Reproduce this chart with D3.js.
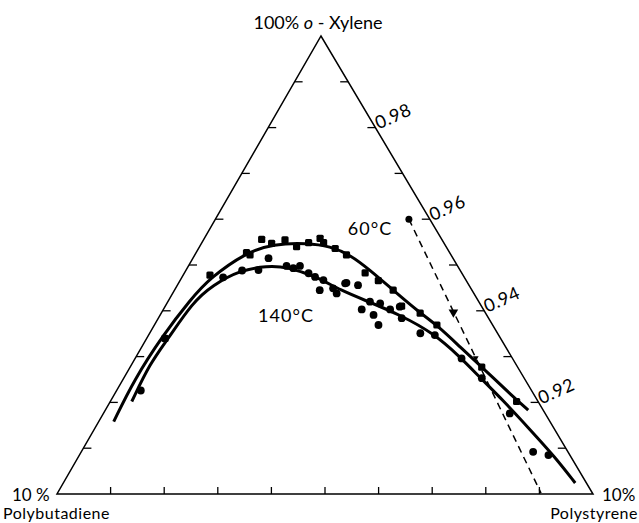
<!DOCTYPE html>
<html>
<head>
<meta charset="utf-8">
<script src="https://cdn.jsdelivr.net/npm/d3@7"></script>
<style>
  body { margin: 0; background: #fff; }
  svg { display: block; font-family: Lato, 'Open Sans', sans-serif; }
</style>
</head>
<body>
<div id="chart"></div>
<script>
// compositions as [polystyrene %, o-xylene %], polybutadiene is the rest
const tickValues = [91, 92, 93, 94, 95, 96, 97, 98, 99]
const rightLabels = [98, 96, 94, 92]

const points60 = [
  [0.34, 93.40], [0.50, 94.78], [0.94, 95.27], [1.03, 95.22], [1.08, 95.56],
  [1.31, 95.47], [1.52, 95.55], [1.81, 95.40], [1.99, 95.49], [2.16, 95.58],
  [2.27, 95.49], [2.55, 95.36], [2.83, 95.22], [3.37, 94.83], [3.70, 94.66],
  [4.08, 94.45], [4.41, 94.10], [4.83, 93.95], [5.27, 93.69], [6.56, 92.77],
  [7.58, 92.02]
]
const points140 = [
  [0.45, 92.26], [0.77, 94.73], [1.05, 94.88], [1.35, 94.89], [1.41, 95.15],
  [1.83, 94.98], [1.98, 94.93], [2.08, 94.98], [2.32, 94.82], [2.48, 94.74],
  [2.67, 94.67], [2.71, 94.45], [2.94, 94.49], [3.06, 94.38], [3.13, 94.61],
  [3.11, 94.60], [3.37, 94.56], [3.70, 94.03], [3.77, 94.20], [3.98, 94.16],
  [4.23, 94.03], [4.38, 94.09], [4.54, 93.84], [3.98, 93.91], [4.18, 93.69],
  [5.05, 93.51], [5.34, 93.47], [6.09, 92.96], [6.68, 92.53], [7.58, 91.76],
  [8.43, 90.92], [8.75, 90.85]
]
const curve60 = [
  [0.28, 91.58], [0.21, 92.49], [0.27, 93.47], [0.40, 94.24], [0.53, 94.72],
  [0.94, 95.28], [1.34, 95.46], [1.97, 95.48], [2.43, 95.41], [2.90, 95.22],
  [3.43, 94.89], [4.08, 94.45], [4.83, 93.95], [5.27, 93.69], [5.94, 93.21],
  [6.59, 92.75], [7.47, 92.12], [7.89, 91.83]
]
const curve140 = [
  [0.40, 92.02], [0.33, 92.86], [0.40, 93.36], [0.47, 94.19], [0.66, 94.56],
  [1.01, 94.89], [1.47, 94.98], [1.85, 94.96], [2.52, 94.74], [3.09, 94.45],
  [3.77, 94.19], [4.47, 93.91], [5.28, 93.52], [6.05, 92.99], [6.63, 92.55],
  [7.31, 92.05], [8.14, 91.40], [8.89, 90.81], [9.55, 90.24]
]
const tieLine = [[3.61, 96.00], [9.02, 90.02]]
const tieMarks = [[5.44, 93.97], [6.35, 92.97]]

const width = 639, height = 523

const xylScale = d3.scaleLinear().domain([90, 100]).range([494, 36])
const leftEdge = d3.scaleLinear().domain([90, 100]).range([57, 321])
const psScale = d3.scaleLinear().domain([0, 10]).range([0, 536])

function px(d) { return leftEdge(d[1]) + psScale(d[0]) }
function py(d) { return xylScale(d[1]) }

const svg = d3.select('#chart').append('svg')
  .attr('width', width)
  .attr('height', height)

// frame
const corners = [[0, 90], [10, 90], [0, 100]]
svg.append('path')
  .attr('d', 'M' + corners.map(d => px(d) + ',' + py(d)).join('L') + 'Z')
  .attr('fill', 'none')
  .attr('stroke', '#000')
  .attr('stroke-width', 1.5)

const tickLen = 8
tickValues.forEach(v => {
  const l = [0, v], r = [100 - v, v], b = [v - 90, 90]
  svg.append('line')
    .attr('x1', px(l)).attr('y1', py(l)).attr('x2', px(l) + tickLen).attr('y2', py(l))
    .attr('stroke', '#000').attr('stroke-width', 1.3)
  svg.append('line')
    .attr('x1', px(r)).attr('y1', py(r)).attr('x2', px(r) - tickLen).attr('y2', py(r))
    .attr('stroke', '#000').attr('stroke-width', 1.3)
  svg.append('line')
    .attr('x1', px(b)).attr('y1', py(b)).attr('x2', px(b)).attr('y2', py(b) - 7)
    .attr('stroke', '#000').attr('stroke-width', 1.3)
})

rightLabels.forEach(v => {
  const r = [100 - v, v]
  const x = px(r) + 3, y = py(r) + 2
  svg.append('text')
    .attr('x', x).attr('y', y)
    .attr('transform', 'rotate(-24,' + x + ',' + y + ')')
    .attr('font-size', 18)
    .attr('letter-spacing', 0.5)
    .text((v / 100).toFixed(2))
})

// curves
const line = d3.line().x(px).y(py).curve(d3.curveBasis)
;[curve60, curve140].forEach(c => {
  svg.append('path')
    .datum(c)
    .attr('d', line)
    .attr('fill', 'none')
    .attr('stroke', '#000')
    .attr('stroke-width', 3)
})

svg.append('path')
  .datum(tieLine)
  .attr('d', d3.line().x(px).y(py))
  .attr('fill', 'none')
  .attr('stroke', '#000')
  .attr('stroke-width', 1.5)
  .attr('stroke-dasharray', '7,5')

svg.append('circle')
  .attr('cx', px(tieLine[0])).attr('cy', py(tieLine[0])).attr('r', 3.5)

svg.selectAll('.tri')
  .data(tieMarks)
  .join('path')
  .attr('class', 'tri')
  .attr('transform', (d, i) => 'translate(' + px(d) + ',' + py(d) + ') rotate(180) scale(' + (i ? 0.6 : 1) + ')')
  .attr('d', d3.symbol(d3.symbolTriangle, 40))

// data points
svg.selectAll('.p60')
  .data(points60)
  .join('rect')
  .attr('class', 'p60')
  .attr('x', d => px(d) - 3.6).attr('y', d => py(d) - 3.6)
  .attr('width', 7.2).attr('height', 7.2)
  .attr('rx', 1.5)

svg.selectAll('.p140')
  .data(points140)
  .join('circle')
  .attr('class', 'p140')
  .attr('cx', px).attr('cy', py)
  .attr('r', 3.9)

// labels
const title = svg.append('text')
  .attr('x', 318).attr('y', 29)
  .attr('text-anchor', 'middle')
  .attr('font-size', 18)
title.append('tspan').text('100% ')
title.append('tspan').attr('font-style', 'italic').text('o')
title.append('tspan').text(' - Xylene')

svg.append('text').attr('x', 12).attr('y', 501).attr('font-size', 17).text('10 %')
svg.append('text').attr('x', 3).attr('y', 519).attr('font-size', 16).attr('letter-spacing', 0.5).text('Polybutadiene')
svg.append('text').attr('x', 602).attr('y', 501).attr('font-size', 17).text('10%')
svg.append('text').attr('x', 638).attr('y', 519).attr('text-anchor', 'end').attr('font-size', 16).attr('letter-spacing', 0.5).text('Polystyrene')

svg.append('text').attr('x', 370).attr('y', 235).attr('text-anchor', 'middle').attr('font-size', 18).attr('letter-spacing', 1).text('60°C')
svg.append('text').attr('x', 286).attr('y', 322).attr('text-anchor', 'middle').attr('font-size', 18).attr('letter-spacing', 1).text('140°C')
</script>
</body>
</html>
